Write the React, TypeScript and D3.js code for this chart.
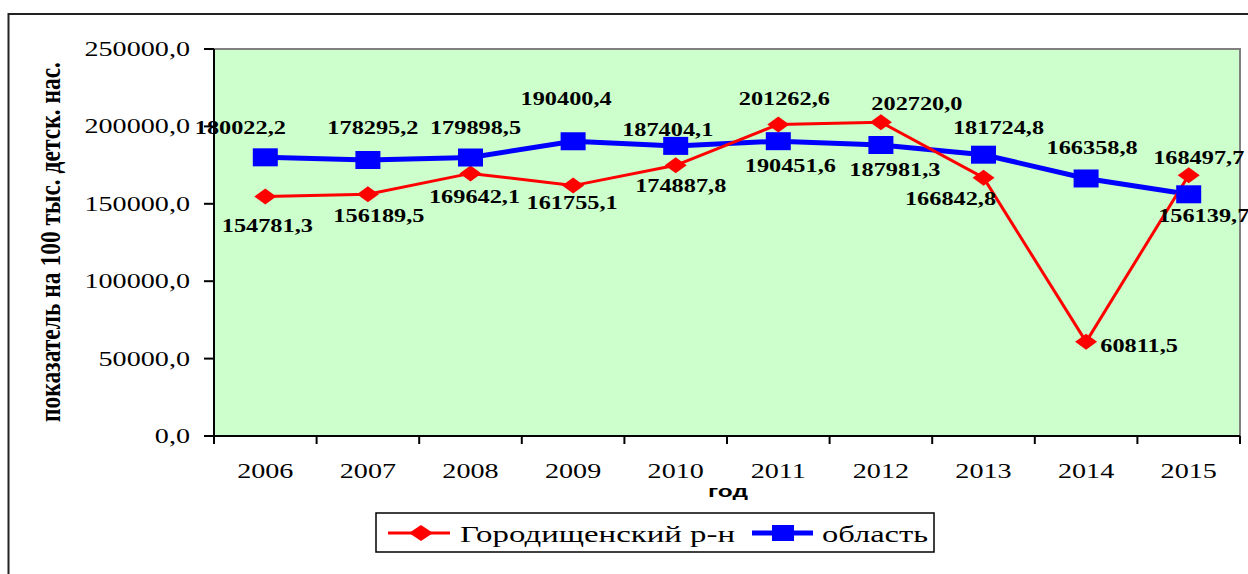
import React from "react";
import * as d3 from "d3";

const years = ["2006", "2007", "2008", "2009", "2010", "2011", "2012", "2013", "2014", "2015"];
const gorodValues = [154781.3, 156189.5, 169642.1, 161755.1, 174887.8, 201262.6, 202720.0, 166842.8, 60811.5, 168497.7];
const oblastValues = [180022.2, 178295.2, 179898.5, 190400.4, 187404.1, 190451.6, 187981.3, 181724.8, 166358.8, 156139.7];
const yTicks = [0, 50000, 100000, 150000, 200000, 250000];
const seriesNames = ["Городищенский р-н", "область"];
const yTitle = "показатель на 100 тыс. детск. нас.";
const xTitle = "год";

// label offsets (dx, dy) relative to the point, text middle
const gorodLabelOffsets: [number, number][] = [
  [2, 29], [11, 21], [4, 23], [-1, 17], [5, 20], [6, -26], [36, -19], [-33, 21], [53, 4], [10, -18],
];
const oblastLabelOffsets: [number, number][] = [
  [-25, -30], [5, -32], [5, -30], [-7, -43], [-8, -16], [12, 24], [14, 24], [15, -27], [6, -31], [15, 21],
];

const W = 1248;
const H = 574;
const plot = { left: 214, right: 1240, top: 49, bottom: 436 };
const SX = 1.28;
const serif = "'Liberation Serif', 'Times New Roman', serif";
const sans = "'Liberation Sans', Arial, sans-serif";

const fmt = (v: number) => d3.format(".1f")(v).replace(".", ",");

function SText(props: {
  x: number; y: number; children: React.ReactNode; anchor?: string; size: number; weight?: string; family?: string;
}) {
  const { x, y, children, anchor = "middle", size, weight = "normal", family = serif } = props;
  return (
    <text
      transform={`translate(${x},${y}) scale(${SX},1)`}
      textAnchor={anchor}
      fontSize={size}
      fontWeight={weight}
      fontFamily={family}
      fill="#000"
    >
      {children}
    </text>
  );
}

function diamond(cx: number, cy: number, w: number, h: number) {
  return `M${cx - w / 2},${cy} L${cx},${cy - h / 2} L${cx + w / 2},${cy} L${cx},${cy + h / 2} Z`;
}

export default function App() {
  const x = d3.scaleBand<string>().domain(years).range([plot.left, plot.right]);
  const y = d3.scaleLinear().domain([0, 250000]).range([plot.bottom, plot.top]);
  const cx = (yr: string) => (x(yr) as number) + x.bandwidth() / 2;

  const line = d3
    .line<number>()
    .x((_, i) => cx(years[i]))
    .y((d) => y(d));

  const boundaries = years.map((yr) => x(yr) as number).concat([plot.right]);

  return (
    <svg width={W} height={H} style={{ position: "absolute", left: 0, top: 0, background: "#fff" }}>
      {/* outer frame */}
      <rect x={8.5} y={14} width={1300} height={620} fill="#fff" stroke="#222" strokeWidth={2} />

      {/* plot area */}
      <rect
        x={plot.left}
        y={plot.top}
        width={plot.right - plot.left}
        height={plot.bottom - plot.top}
        fill="#CCFFCC"
        stroke="#808080"
        strokeWidth={2}
      />

      {/* y axis */}
      <line x1={plot.left} x2={plot.left} y1={plot.top} y2={plot.bottom} stroke="#000" strokeWidth={2} />
      {yTicks.map((t) => (
        <g key={t}>
          <line x1={plot.left - 10} x2={plot.left} y1={y(t)} y2={y(t)} stroke="#000" strokeWidth={2} />
          <SText x={190} y={y(t) + 7} anchor="end" size={22}>
            {fmt(t)}
          </SText>
        </g>
      ))}

      {/* x axis */}
      <line x1={plot.left} x2={plot.right} y1={plot.bottom} y2={plot.bottom} stroke="#000" strokeWidth={2} />
      {boundaries.map((b, i) => (
        <line key={i} x1={b} x2={b} y1={plot.bottom} y2={plot.bottom + 8} stroke="#000" strokeWidth={2} />
      ))}
      {years.map((yr) => (
        <SText key={yr} x={cx(yr)} y={478} size={22}>
          {yr}
        </SText>
      ))}

      {/* axis titles */}
      <text
        transform={`translate(60,242) scale(${SX},1) rotate(-90)`}
        textAnchor="middle"
        fontSize={23}
        fontWeight="bold"
        fontFamily={serif}
        textLength={360}
        lengthAdjust="spacingAndGlyphs"
      >
        {yTitle}
      </text>
      <text
        x={728}
        y={497}
        textAnchor="middle"
        fontSize={17}
        fontWeight="bold"
        fontFamily={sans}
        textLength={40}
        lengthAdjust="spacingAndGlyphs"
      >
        {xTitle}
      </text>

      {/* lines */}
      <path d={line(oblastValues) || ""} fill="none" stroke="#0000FF" strokeWidth={5} />
      <path d={line(gorodValues) || ""} fill="none" stroke="#FF0000" strokeWidth={3} />

      {/* markers */}
      {gorodValues.map((v, i) => (
        <path key={"g" + i} d={diamond(cx(years[i]), y(v), 22, 16)} fill="#FF0000" />
      ))}
      {oblastValues.map((v, i) => (
        <rect key={"o" + i} x={cx(years[i]) - 12.5} y={y(v) - 9} width={25} height={18} fill="#0000FF" />
      ))}

      {/* data labels */}
      {oblastValues.map((v, i) => (
        <SText
          key={"ol" + i}
          x={cx(years[i]) + oblastLabelOffsets[i][0]}
          y={y(v) + oblastLabelOffsets[i][1] + 6.5}
          size={19}
          weight="bold"
        >
          {fmt(v)}
        </SText>
      ))}
      {gorodValues.map((v, i) => (
        <SText
          key={"gl" + i}
          x={cx(years[i]) + gorodLabelOffsets[i][0]}
          y={y(v) + gorodLabelOffsets[i][1] + 6.5}
          size={19}
          weight="bold"
        >
          {fmt(v)}
        </SText>
      ))}

      {/* legend */}
      <rect x={376} y={513} width={558} height={39} fill="#fff" stroke="#000" strokeWidth={1.5} />
      <line x1={388} x2={450} y1={533} y2={533} stroke="#FF0000" strokeWidth={3} />
      <path d={diamond(421, 533, 24, 16)} fill="#FF0000" />
      <text x={460} y={542} fontSize={24} fontFamily={serif} textLength={275} lengthAdjust="spacingAndGlyphs">
        {seriesNames[0]}
      </text>
      <line x1={752} x2={813} y1={533} y2={533} stroke="#0000FF" strokeWidth={5} />
      <rect x={772} y={525} width={22} height={16} fill="#0000FF" />
      <text x={822} y={542} fontSize={24} fontFamily={serif} textLength={106} lengthAdjust="spacingAndGlyphs">
        {seriesNames[1]}
      </text>
    </svg>
  );
}
